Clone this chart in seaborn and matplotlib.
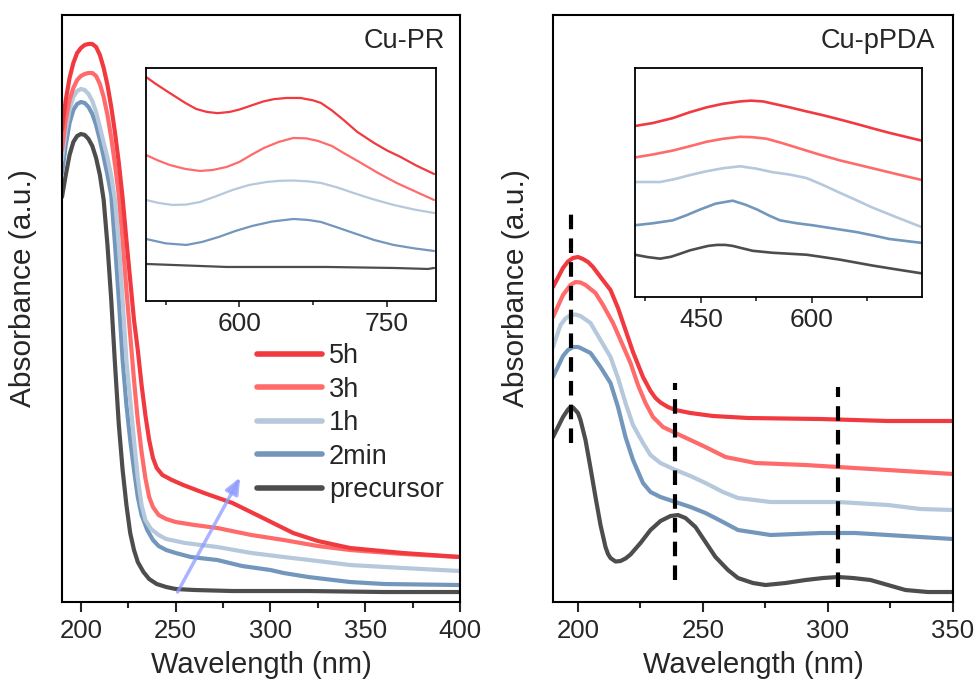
import matplotlib
matplotlib.use("Agg")
import matplotlib.pyplot as plt
import numpy as np
import pandas as pd
import seaborn as sns
from matplotlib.lines import Line2D
from matplotlib.ticker import MultipleLocator

# ---------------- data ----------------
samples = ["5h", "3h", "1h", "2min", "precursor"]
draw_order = ["precursor", "2min", "1h", "3h", "5h"]
colors = {"5h": "#F03A40", "3h": "#FF6B6B", "1h": "#B5C8DC",
          "2min": "#7397BC", "precursor": "#4D4D4D"}

# Cu-PR main panel
pr_wl_precursor = [190, 192, 194, 196, 198, 200, 202, 204, 206, 208, 210, 212, 214, 216, 218, 220,
                   222, 224, 226, 228, 230, 233, 236, 240, 245, 250, 260, 280, 320, 360, 400]
pr_abs_precursor = [0.806, 0.850, 0.890, 0.916, 0.928, 0.932, 0.930, 0.922, 0.908, 0.884, 0.850,
                    0.800, 0.710, 0.600, 0.470, 0.350, 0.260, 0.190, 0.134, 0.100, 0.076, 0.056,
                    0.042, 0.032, 0.026, 0.022, 0.020, 0.018, 0.018, 0.016, 0.016]
pr_wl_2min = [190, 192, 194, 196, 198, 200, 202, 204, 206, 208, 210, 212, 214, 216, 218, 220, 222,
              224, 226, 228, 230, 232, 235, 238, 241, 245, 250, 258, 272, 285, 300, 307, 320, 342,
              360, 400]
pr_abs_2min = [0.854, 0.910, 0.954, 0.980, 0.992, 0.996, 0.994, 0.986, 0.972, 0.950, 0.920, 0.886,
               0.850, 0.810, 0.710, 0.600, 0.480, 0.390, 0.320, 0.260, 0.206, 0.170, 0.140, 0.120,
               0.108, 0.100, 0.094, 0.086, 0.080, 0.068, 0.060, 0.054, 0.046, 0.036, 0.032, 0.030]
pr_wl_1h = [190, 192, 194, 196, 198, 200, 202, 204, 206, 208, 210, 212, 214, 216, 218, 220, 222,
            224, 226, 228, 230, 232, 234, 237, 241, 245, 255, 272, 290, 307, 325, 342, 370, 400]
pr_abs_1h = [0.880, 0.940, 0.980, 1.006, 1.018, 1.022, 1.020, 1.012, 0.998, 0.976, 0.946, 0.915,
             0.885, 0.848, 0.800, 0.710, 0.600, 0.480, 0.400, 0.320, 0.244, 0.190, 0.160, 0.142,
             0.130, 0.122, 0.114, 0.106, 0.094, 0.086, 0.078, 0.070, 0.064, 0.058]
pr_wl_3h = [190, 192, 194, 196, 198, 200, 202, 204, 206, 208, 210, 212, 214, 216, 218, 220, 222,
            224, 226, 228, 230, 232, 234, 236, 238, 241, 245, 250, 260, 272, 290, 307, 325, 342,
            370, 400]
pr_abs_3h = [0.900, 0.960, 1.000, 1.024, 1.040, 1.048, 1.052, 1.054, 1.054, 1.048, 1.032, 1.006,
             0.970, 0.924, 0.870, 0.810, 0.720, 0.620, 0.530, 0.440, 0.360, 0.296, 0.244, 0.206,
             0.186, 0.170, 0.162, 0.156, 0.150, 0.144, 0.130, 0.120, 0.108, 0.100, 0.092, 0.086]
pr_wl_5h = [190, 192, 194, 196, 198, 200, 202, 204, 206, 208, 210, 212, 214, 216, 218, 220, 222,
            224, 226, 228, 230, 232, 234, 236, 238, 240, 243, 248, 254, 265, 280, 295, 312, 325,
            342, 370, 400]
pr_abs_5h = [0.940, 1.000, 1.044, 1.074, 1.094, 1.104, 1.110, 1.112, 1.112, 1.106, 1.090, 1.064,
             1.030, 0.986, 0.934, 0.874, 0.804, 0.720, 0.640, 0.560, 0.500, 0.430, 0.370, 0.320,
             0.284, 0.264, 0.250, 0.240, 0.230, 0.214, 0.194, 0.166, 0.134, 0.118, 0.104, 0.094,
             0.086]

# Cu-PR inset (visible region)
pri_wl_5h = [505, 515, 529, 545, 556, 567, 578, 590, 600, 612, 624, 635, 648, 662, 675, 683, 694,
             706, 720, 737, 750, 764, 780, 798]
pri_abs_5h = [1.115, 1.080, 1.035, 0.985, 0.955, 0.940, 0.934, 0.940, 0.952, 0.972, 0.992, 1.004,
              1.010, 1.010, 0.998, 0.985, 0.948, 0.900, 0.840, 0.785, 0.748, 0.715, 0.672, 0.630]
pri_wl_3h = [505, 517, 529, 545, 560, 573, 587, 600, 612, 625, 640, 655, 668, 680, 694, 706, 722,
             741, 760, 780, 798]
pri_abs_3h = [0.725, 0.698, 0.675, 0.655, 0.645, 0.650, 0.665, 0.690, 0.725, 0.760, 0.790, 0.810,
              0.808, 0.795, 0.770, 0.735, 0.690, 0.635, 0.585, 0.540, 0.500]
pri_wl_1h = [505, 518, 532, 546, 560, 576, 593, 610, 628, 642, 655, 670, 683, 700, 716, 735, 757,
             778, 798]
pri_abs_1h = [0.500, 0.485, 0.475, 0.477, 0.490, 0.518, 0.550, 0.575, 0.590, 0.596, 0.597, 0.593,
              0.585, 0.562, 0.535, 0.505, 0.475, 0.452, 0.435]
pri_wl_2min = [505, 525, 546, 562, 579, 596, 613, 633, 655, 670, 683, 700, 716, 737, 757, 778, 798]
pri_abs_2min = [0.305, 0.283, 0.275, 0.290, 0.315, 0.345, 0.370, 0.392, 0.405, 0.400, 0.390, 0.362,
                0.335, 0.300, 0.275, 0.258, 0.245]
pri_wl_precursor = [505, 587, 689, 757, 792, 798]
pri_abs_precursor = [0.180, 0.165, 0.165, 0.160, 0.155, 0.160]

# Cu-pPDA main panel
pp_wl_5h = [190, 194, 196, 198, 200, 202, 204, 206, 209, 213, 216, 219, 222, 226, 229, 231, 233,
            236, 239, 245, 254, 268, 297, 324, 350]
pp_abs_5h = [0.626, 0.664, 0.677, 0.684, 0.686, 0.682, 0.676, 0.666, 0.646, 0.620, 0.584, 0.540,
             0.496, 0.446, 0.418, 0.404, 0.395, 0.386, 0.380, 0.374, 0.368, 0.364, 0.362, 0.358,
             0.358]
pp_wl_3h = [190, 194, 197, 199, 201, 203, 207, 210, 214, 217, 221, 224, 227, 230, 234, 239, 245,
            251, 259, 271, 291, 304, 324, 350]
pp_abs_3h = [0.566, 0.610, 0.630, 0.636, 0.635, 0.630, 0.614, 0.590, 0.554, 0.520, 0.474, 0.430,
             0.394, 0.366, 0.346, 0.334, 0.320, 0.306, 0.286, 0.274, 0.270, 0.266, 0.260, 0.252]
pp_wl_1h = [190, 193, 195, 197, 199, 201, 205, 209, 213, 216, 219, 222, 226, 229, 233, 239, 245,
            251, 258, 264, 277, 304, 324, 337, 350]
pp_abs_1h = [0.506, 0.550, 0.563, 0.570, 0.571, 0.568, 0.554, 0.520, 0.486, 0.444, 0.394, 0.350,
             0.314, 0.290, 0.274, 0.260, 0.248, 0.234, 0.216, 0.204, 0.196, 0.196, 0.190, 0.182,
             0.180]
pp_wl_2min = [190, 194, 196, 198, 200, 201, 205, 209, 213, 216, 219, 222, 226, 229, 233, 239, 245,
              251, 258, 264, 277, 297, 311, 324, 350]
pp_abs_2min = [0.446, 0.488, 0.500, 0.506, 0.506, 0.504, 0.494, 0.466, 0.434, 0.386, 0.326, 0.280,
               0.234, 0.216, 0.206, 0.196, 0.186, 0.174, 0.156, 0.140, 0.130, 0.134, 0.134, 0.130,
               0.122]
pp_wl_precursor = [190, 194, 196, 197, 198, 200, 201, 203, 205, 207, 209, 211, 212, 213, 215, 217,
                   219, 221, 225, 229, 233, 237, 240, 243, 247, 251, 255, 260, 264, 270, 275, 283,
                   291, 298, 304, 310, 317, 324, 331, 340, 350]
pp_abs_precursor = [0.326, 0.366, 0.381, 0.386, 0.385, 0.374, 0.360, 0.320, 0.264, 0.206, 0.150,
                    0.106, 0.092, 0.084, 0.077, 0.078, 0.083, 0.091, 0.114, 0.140, 0.158, 0.168,
                    0.170, 0.164, 0.146, 0.116, 0.086, 0.060, 0.044, 0.034, 0.030, 0.034, 0.040,
                    0.044, 0.046, 0.044, 0.040, 0.030, 0.020, 0.016, 0.016]

# Cu-pPDA inset
ppi_wl_5h = [361, 385, 412, 435, 458, 480, 503, 518, 534, 552, 570, 592, 615, 638, 661, 683, 705,
             727, 749]
ppi_abs_5h = [0.865, 0.880, 0.905, 0.935, 0.960, 0.978, 0.990, 0.994, 0.990, 0.975, 0.960, 0.940,
              0.920, 0.898, 0.875, 0.852, 0.830, 0.810, 0.790]
ppi_wl_3h = [361, 385, 412, 435, 458, 480, 503, 520, 539, 560, 584, 610, 638, 660, 682, 715, 749]
ppi_abs_3h = [0.705, 0.720, 0.740, 0.762, 0.785, 0.800, 0.810, 0.808, 0.800, 0.778, 0.750, 0.720,
              0.690, 0.670, 0.650, 0.620, 0.590]
ppi_wl_1h = [361, 378, 395, 415, 435, 458, 480, 503, 525, 547, 570, 593, 615, 638, 660, 682, 715,
             749]
ppi_abs_1h = [0.580, 0.580, 0.580, 0.595, 0.615, 0.635, 0.650, 0.660, 0.648, 0.630, 0.618, 0.600,
              0.565, 0.525, 0.488, 0.450, 0.400, 0.350]
ppi_wl_2min = [361, 385, 412, 430, 449, 470, 493, 510, 526, 542, 557, 580, 601, 630, 661, 683, 705,
               727, 749]
ppi_abs_2min = [0.360, 0.370, 0.385, 0.410, 0.440, 0.470, 0.485, 0.465, 0.440, 0.410, 0.385, 0.370,
                0.360, 0.343, 0.325, 0.308, 0.290, 0.280, 0.270]
ppi_wl_precursor = [361, 378, 395, 410, 422, 435, 449, 460, 472, 483, 493, 507, 520, 547, 570, 593,
                    615, 638, 660, 682, 715, 749]
ppi_abs_precursor = [0.210, 0.198, 0.190, 0.200, 0.215, 0.232, 0.245, 0.255, 0.260, 0.260, 0.255,
                     0.242, 0.230, 0.220, 0.215, 0.210, 0.198, 0.185, 0.170, 0.155, 0.135, 0.115]

# peak markers (Cu-pPDA)
peak_positions = [197, 239, 304]
peak_line_top = [0.786, 0.434, 0.426]
peak_line_bottom = [0.314, 0.040, 0.026]

# trend arrow (Cu-PR), data coords
arrow_start = (251, 0.016)
arrow_end = (284, 0.245)

main_xticks_pr = [200, 250, 300, 350, 400]
main_xticks_pp = [200, 250, 300, 350]
inset_xticks_pr = [600, 750]
inset_xticks_pp = [450, 600]


def frame(pairs):
    rows = []
    for name, (wl, ab) in pairs.items():
        rows.append(pd.DataFrame({"wavelength": wl, "absorbance": ab, "sample": name}))
    return pd.concat(rows, ignore_index=True)


pr_df = frame({"precursor": (pr_wl_precursor, pr_abs_precursor), "2min": (pr_wl_2min, pr_abs_2min),
               "1h": (pr_wl_1h, pr_abs_1h), "3h": (pr_wl_3h, pr_abs_3h), "5h": (pr_wl_5h, pr_abs_5h)})
pri_df = frame({"precursor": (pri_wl_precursor, pri_abs_precursor), "2min": (pri_wl_2min, pri_abs_2min),
                "1h": (pri_wl_1h, pri_abs_1h), "3h": (pri_wl_3h, pri_abs_3h), "5h": (pri_wl_5h, pri_abs_5h)})
pp_df = frame({"precursor": (pp_wl_precursor, pp_abs_precursor), "2min": (pp_wl_2min, pp_abs_2min),
               "1h": (pp_wl_1h, pp_abs_1h), "3h": (pp_wl_3h, pp_abs_3h), "5h": (pp_wl_5h, pp_abs_5h)})
ppi_df = frame({"precursor": (ppi_wl_precursor, ppi_abs_precursor), "2min": (ppi_wl_2min, ppi_abs_2min),
                "1h": (ppi_wl_1h, ppi_abs_1h), "3h": (ppi_wl_3h, ppi_abs_3h), "5h": (ppi_wl_5h, ppi_abs_5h)})

# ---------------- style ----------------
sns.set_theme(style="white")
plt.rcParams["font.family"] = ["Liberation Sans", "DejaVu Sans"]
plt.rcParams["axes.linewidth"] = 1.5
plt.rcParams["lines.solid_joinstyle"] = "round"

fig = plt.figure(figsize=(9.76, 6.87), dpi=100)
ax1 = fig.add_axes([0.0635, 0.1237, 0.4078, 0.8545])
ax2 = fig.add_axes([0.5666, 0.1237, 0.4098, 0.8545])
in1 = fig.add_axes([0.1496, 0.5619, 0.2971, 0.3392])
in2 = fig.add_axes([0.6506, 0.5677, 0.2941, 0.3333])


def draw(ax, df, lw):
    sns.lineplot(data=df, x="wavelength", y="absorbance", hue="sample", hue_order=draw_order,
                 palette=colors, linewidth=lw, estimator=None, sort=False, legend=False, ax=ax)


draw(ax1, pr_df, 3.0)
draw(ax2, pp_df, 3.0)
draw(in1, pri_df, 1.6)
draw(in2, ppi_df, 1.9)

for ax, xl, ticks in [(ax1, (190, 400), main_xticks_pr), (ax2, (190, 350), main_xticks_pp)]:
    ax.set_xlim(*xl)
    ax.set_ylim(-0.004, 1.17)
    ax.set_xticks(ticks)
    ax.xaxis.set_minor_locator(MultipleLocator(25))
    ax.set_yticks([])
    ax.tick_params(axis="x", which="major", direction="out", length=7, width=1.5,
                   labelsize=18.5, pad=5, bottom=True)
    ax.tick_params(axis="x", which="minor", direction="out", length=4, width=1.5, bottom=True)
    ax.set_xlabel("Wavelength (nm)", fontsize=21, labelpad=6)
    ax.set_ylabel("Absorbance (a.u.)", fontsize=21.5)
    for s in ax.spines.values():
        s.set_color("black")
        s.set_linewidth(1.5)

ax1.yaxis.set_label_coords(-0.063, 0.535)
ax2.yaxis.set_label_coords(-0.057, 0.535)

for ax, xl, ticks in [(in1, (505, 800), inset_xticks_pr), (in2, (361, 749), inset_xticks_pp)]:
    ax.set_xlim(*xl)
    ax.set_ylim(-0.005, 1.16)
    ax.set_xticks(ticks)
    ax.xaxis.set_minor_locator(MultipleLocator(75))
    ax.set_yticks([])
    ax.tick_params(axis="x", which="major", direction="out", length=4, width=1.2,
                   labelsize=19, pad=4, bottom=True)
    ax.tick_params(axis="x", which="minor", direction="out", length=3, width=1.2, bottom=True)
    ax.set_xlabel("")
    ax.set_ylabel("")
    for s in ax.spines.values():
        s.set_color("black")
        s.set_linewidth(1.3)

ax2.vlines(peak_positions, peak_line_bottom, peak_line_top, colors="black",
           linestyles=(0, (3.5, 2.2)), linewidth=3)

ax1.text(0.962, 0.978, "Cu-PR", transform=ax1.transAxes, ha="right", va="top", fontsize=19.5)
ax2.text(0.955, 0.978, "Cu-pPDA", transform=ax2.transAxes, ha="right", va="top", fontsize=19.5)

ax1.annotate("", xy=arrow_end, xytext=arrow_start,
             arrowprops=dict(arrowstyle="-|>,head_length=0.8,head_width=0.35", color="#8F9BFF",
                             alpha=0.75, lw=2.5, shrinkA=0, shrinkB=0))

handles = [Line2D([0], [0], color=colors[s], lw=4) for s in samples]
ax1.legend(handles, samples, loc="upper left", bbox_to_anchor=(0.49, 0.441), frameon=False,
           fontsize=19.5, handlelength=2.4, handletextpad=0.25, labelspacing=0.28,
           borderpad=0, borderaxespad=0)

fig.savefig("out.png", dpi=100)
